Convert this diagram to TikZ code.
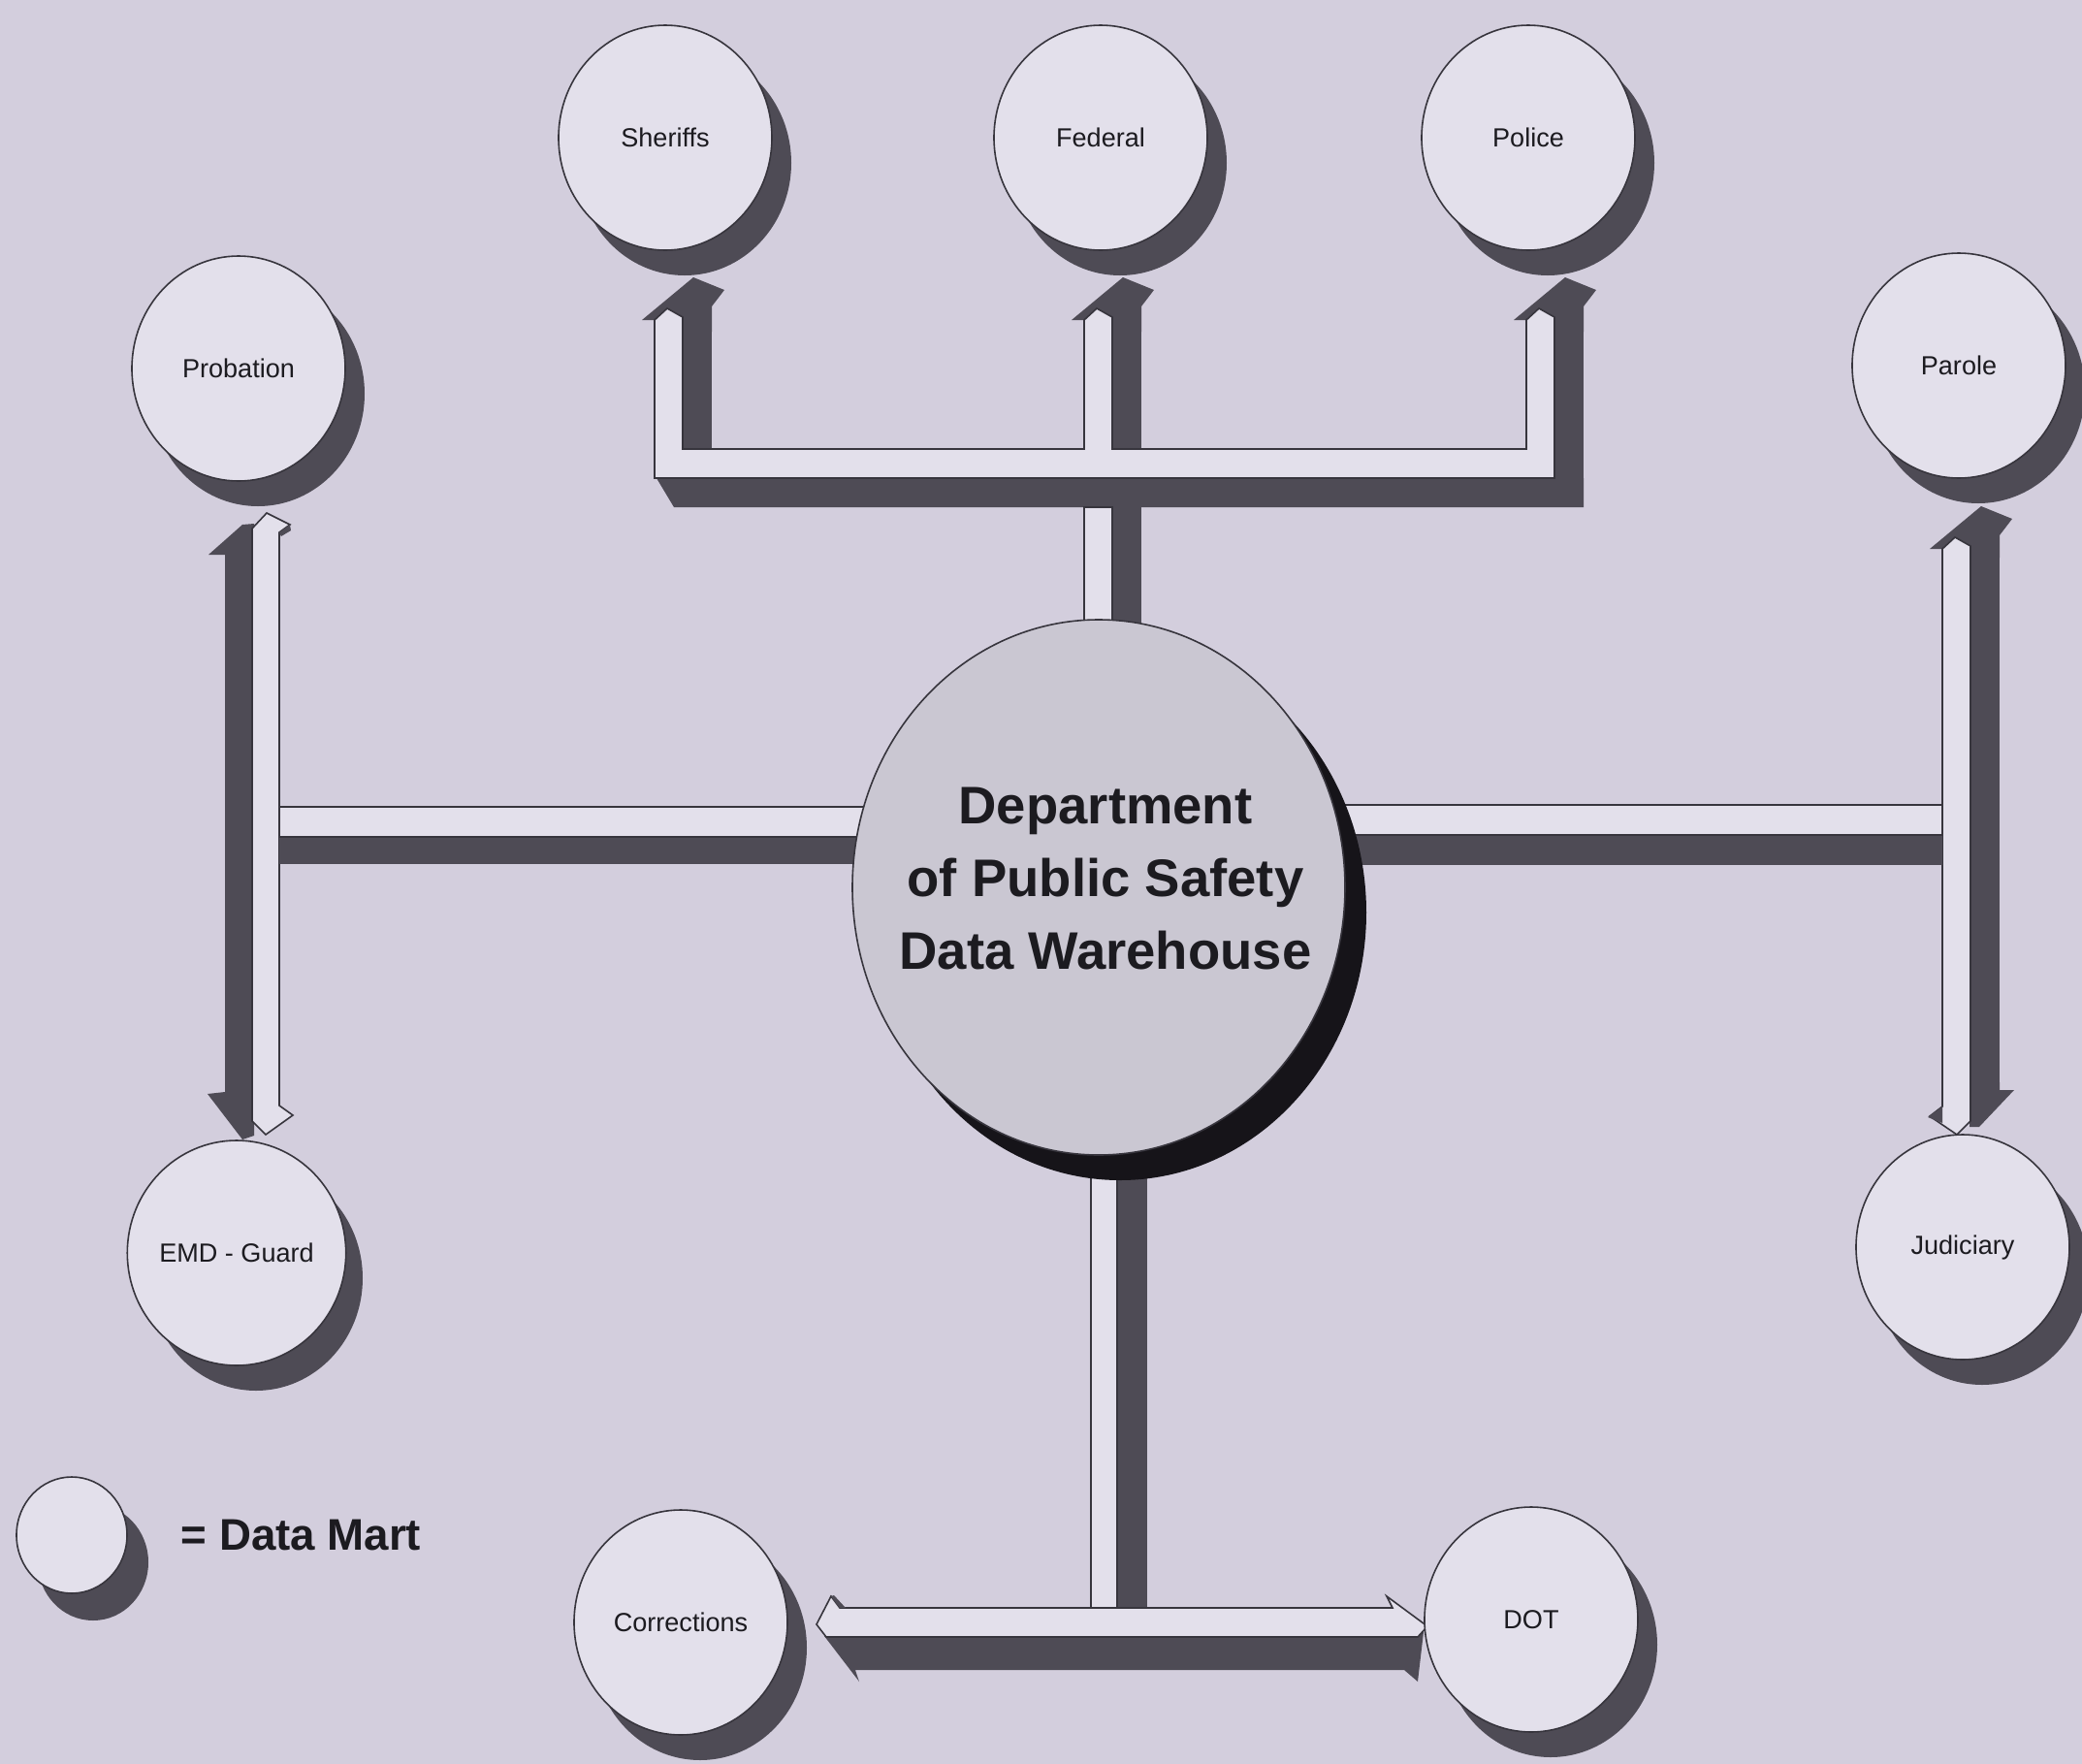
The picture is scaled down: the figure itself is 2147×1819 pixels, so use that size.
\documentclass[tikz,border=0pt]{standalone}
\usepackage{fontspec}
\setmainfont{Liberation Sans}
\usetikzlibrary{shapes.geometric}
\definecolor{bgc}{RGB}{211,206,221}
\definecolor{face}{RGB}{227,224,235}
\definecolor{dark}{RGB}{78,75,85}
\definecolor{edge}{RGB}{55,53,61}
\definecolor{hubfill}{RGB}{202,199,210}
\definecolor{ink}{RGB}{28,27,32}
\definecolor{hubshadow}{RGB}{22,20,25}
% dark arrow head of an upward pipe whose dark side is on the right
\newcommand\uphead[2]{\fill[dark] ({#1-13},#2) -- ({#1+40},{#2-44}) -- ({#1+72},{#2-31}) -- ({#1+59},{#2-14}) -- ({#1+59},{#2+12}) -- ({#1+29},{#2+12}) -- ({#1+29},#2) -- cycle;}
% data mart: crescent shadow + ellipse node
\newcommand\datamart[4]{\fill[dark] ({#2+20},{#3+26}) ellipse [x radius=110, y radius=116];
  \node[mart] (#1) at (#2,#3) {#4};}
\begin{document}
\begin{tikzpicture}[x=0.1mm,y=-0.1mm,
  mart/.style={ellipse, draw=edge, line width=0.16mm, fill=face, minimum width=22mm,
    minimum height=23.2mm, inner sep=0pt, text=ink, font=\fontsize{7.7}{9}\selectfont},
  hub/.style={ellipse, draw=edge, line width=0.16mm, fill=hubfill, minimum width=50.8mm,
    minimum height=55.2mm, inner sep=0pt},
  lightface/.style={fill=face, draw=edge, line width=0.16mm, line join=miter}]
\useasboundingbox (0,0) rectangle (2147,1819);
\fill[bgc] (0,0) rectangle (2147,1819);
\clip (0,0) rectangle (2147,1819);

% ---------- top tree (Sheriffs, Federal, Police) ----------
\uphead{675}{330}
\uphead{1118}{330}
\uphead{1574}{330}
\fill[dark] (704,316) rectangle (734,463);
\fill[dark] (1147,316) rectangle (1177,463);
\fill[dark] (1603,316) rectangle (1633,523);
\fill[dark] (677,493) -- (1633,493) -- (1633,523) -- (695,523) -- cycle;
\path[lightface] (675,330) -- (688,318) -- (704,327) -- (704,463) -- (1118,463) -- (1118,330)
  -- (1131,318) -- (1147,327) -- (1147,463) -- (1574,463) -- (1574,330) -- (1587,318)
  -- (1603,327) -- (1603,493) -- (675,493) -- cycle;
% stem down to the warehouse
\fill[dark] (1147,523) rectangle (1177,720);
\path[lightface] (1118,523) rectangle (1147,720);

% ---------- left: Probation <-> EMD - Guard ----------
\fill[dark] (232,570) rectangle (261,1130);
\fill[dark] (215,572) -- (250,541) -- (262,540) -- (262,580) -- (232,580) -- (232,572) -- cycle;
\fill[dark] (262,1116) -- (232,1116) -- (232,1126) -- (214,1128) -- (250,1175) -- (262,1171) -- cycle;
\path[lightface] (260,545) -- (275,529) -- (299,541) -- (288,549) -- (288,1140) -- (302,1150)
  -- (274,1170) -- (260,1156) -- cycle;
\fill[dark] (288,549) -- (299,541) -- (300,547) -- (290,553) -- cycle;
\fill[dark] (288,863) rectangle (950,891);
\path[lightface] (288,832) rectangle (950,863);

% ---------- right: Parole <-> Judiciary ----------
\fill[dark] (2031,560) rectangle (2062,1130);
\fill[dark] (1990,566) -- (2043,522) -- (2075,535) -- (2062,552) -- (2062,575) -- (2032,575)
  -- (2032,566) -- cycle;
\fill[dark] (2031,1116) -- (2062,1116) -- (2062,1124) -- (2077,1124) -- (2041,1162)
  -- (2031,1162) -- cycle;
\path[lightface] (2003,566) -- (2016,554) -- (2032,563) -- (2032,1156) -- (2018,1170)
  -- (1990,1151) -- (2003,1141) -- cycle;
\fill[dark] (1988,1152) -- (2003,1141) -- (2003,1158) -- cycle;
\fill[dark] (1320,861) rectangle (2003,892);
\path[lightface] (1320,830) rectangle (2003,861);

% ---------- bottom: Corrections <-> DOT ----------
\fill[dark] (1152,1150) rectangle (1183,1658);
\path[lightface] (1125,1150) rectangle (1152,1658);
\fill[dark] (850,1687) -- (1468,1683) -- (1462,1734) -- (1448,1722) -- (882,1722)
  -- (886,1734) -- cycle;
\path[lightface] (842,1675) -- (857,1646) -- (866,1658) -- (1436,1658) -- (1430,1646)
  -- (1472,1677) -- (1462,1688) -- (852,1688) -- cycle;
\fill[dark] (857,1646) -- (866,1658) -- (872,1658) -- (860,1645) -- cycle;

% ---------- central warehouse ----------
\fill[hubshadow] (1155,941) ellipse [x radius=254, y radius=276];
\node[hub] (dps) at (1133,915) {};
\node[font=\bfseries\fontsize{15.5}{21.3}\selectfont, align=center, text=ink, inner sep=0pt]
  (dpstext) at (1140,906) {Department\\of Public Safety\\Data Warehouse};

% ---------- data marts ----------
\datamart{sheriffs}{686}{142}{Sheriffs}
\datamart{federal}{1135}{142}{Federal}
\datamart{police}{1576}{142}{Police}
\datamart{probation}{246}{380}{Probation}
\datamart{parole}{2020}{377}{Parole}
\datamart{emd}{244}{1292}{EMD - Guard}
\datamart{judiciary}{2024}{1286}{Judiciary}
\datamart{corrections}{702}{1673}{Corrections}
\datamart{dot}{1579}{1670}{DOT}

% ---------- legend ----------
\fill[dark] (96,1611) ellipse [x radius=57, y radius=60];
\node[mart, minimum width=11.4mm, minimum height=12mm] (legendmart) at (74,1583) {};
\node[anchor=west, font=\bfseries\fontsize{13}{15}\selectfont, text=ink, inner sep=0pt]
  (legendtext) at (186,1583) {= Data Mart};
\end{tikzpicture}
\end{document}
